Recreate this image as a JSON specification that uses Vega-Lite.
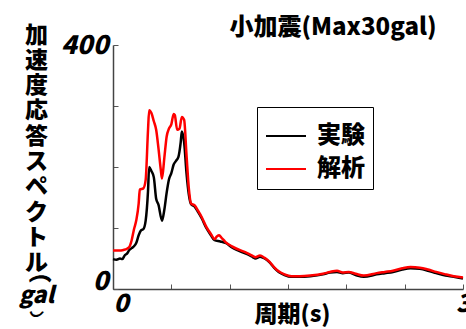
{
  "$schema": "https://vega.github.io/schema/vega-lite/v6.json",
  "width": 350,
  "height": 244,
  "autosize": "none",
  "padding": {"left": 113, "top": 45, "right": 3, "bottom": 40},
  "background": "white",
  "title": {
    "text": "小加震(Max30gal)",
    "font": "Noto Sans CJK JP",
    "fontSize": 24,
    "fontWeight": 900,
    "color": "black",
    "anchor": "middle",
    "dx": 45,
    "baseline": "alphabetic",
    "offset": -35
  },
  "config": {
    "view": {"stroke": null},
    "axis": {"grid": false}
  },
  "data": {
    "values": [
      {"period": 0.00, "acc": 49, "series": "実験"},
      {"period": 0.03, "acc": 48, "series": "実験"},
      {"period": 0.06, "acc": 50, "series": "実験"},
      {"period": 0.08, "acc": 49, "series": "実験"},
      {"period": 0.10, "acc": 55, "series": "実験"},
      {"period": 0.12, "acc": 58, "series": "実験"},
      {"period": 0.14, "acc": 64, "series": "実験"},
      {"period": 0.16, "acc": 67, "series": "実験"},
      {"period": 0.18, "acc": 70, "series": "実験"},
      {"period": 0.20, "acc": 76, "series": "実験"},
      {"period": 0.22, "acc": 88, "series": "実験"},
      {"period": 0.24, "acc": 96, "series": "実験"},
      {"period": 0.26, "acc": 98, "series": "実験"},
      {"period": 0.28, "acc": 112, "series": "実験"},
      {"period": 0.30, "acc": 160, "series": "実験"},
      {"period": 0.31, "acc": 200, "series": "実験"},
      {"period": 0.33, "acc": 193, "series": "実験"},
      {"period": 0.35, "acc": 183, "series": "実験"},
      {"period": 0.37, "acc": 148, "series": "実験"},
      {"period": 0.39, "acc": 138, "series": "実験"},
      {"period": 0.42, "acc": 112, "series": "実験"},
      {"period": 0.44, "acc": 130, "series": "実験"},
      {"period": 0.46, "acc": 158, "series": "実験"},
      {"period": 0.48, "acc": 180, "series": "実験"},
      {"period": 0.50, "acc": 190, "series": "実験"},
      {"period": 0.52, "acc": 204, "series": "実験"},
      {"period": 0.54, "acc": 210, "series": "実験"},
      {"period": 0.56, "acc": 216, "series": "実験"},
      {"period": 0.58, "acc": 240, "series": "実験"},
      {"period": 0.59, "acc": 258, "series": "実験"},
      {"period": 0.61, "acc": 240, "series": "実験"},
      {"period": 0.63, "acc": 190, "series": "実験"},
      {"period": 0.65, "acc": 155, "series": "実験"},
      {"period": 0.67, "acc": 139, "series": "実験"},
      {"period": 0.70, "acc": 135, "series": "実験"},
      {"period": 0.73, "acc": 126, "series": "実験"},
      {"period": 0.76, "acc": 116, "series": "実験"},
      {"period": 0.80, "acc": 100, "series": "実験"},
      {"period": 0.84, "acc": 88, "series": "実験"},
      {"period": 0.87, "acc": 80, "series": "実験"},
      {"period": 0.92, "acc": 78, "series": "実験"},
      {"period": 0.97, "acc": 75, "series": "実験"},
      {"period": 1.02, "acc": 68, "series": "実験"},
      {"period": 1.06, "acc": 64, "series": "実験"},
      {"period": 1.10, "acc": 61, "series": "実験"},
      {"period": 1.15, "acc": 57, "series": "実験"},
      {"period": 1.20, "acc": 52, "series": "実験"},
      {"period": 1.22, "acc": 50, "series": "実験"},
      {"period": 1.26, "acc": 53, "series": "実験"},
      {"period": 1.30, "acc": 50, "series": "実験"},
      {"period": 1.34, "acc": 44, "series": "実験"},
      {"period": 1.38, "acc": 35, "series": "実験"},
      {"period": 1.42, "acc": 28, "series": "実験"},
      {"period": 1.47, "acc": 23, "series": "実験"},
      {"period": 1.53, "acc": 20, "series": "実験"},
      {"period": 1.60, "acc": 20, "series": "実験"},
      {"period": 1.69, "acc": 21, "series": "実験"},
      {"period": 1.80, "acc": 24, "series": "実験"},
      {"period": 1.86, "acc": 27, "series": "実験"},
      {"period": 1.92, "acc": 28, "series": "実験"},
      {"period": 1.97, "acc": 26, "series": "実験"},
      {"period": 2.02, "acc": 27, "series": "実験"},
      {"period": 2.08, "acc": 23, "series": "実験"},
      {"period": 2.15, "acc": 20, "series": "実験"},
      {"period": 2.26, "acc": 24, "series": "実験"},
      {"period": 2.33, "acc": 26, "series": "実験"},
      {"period": 2.40, "acc": 28, "series": "実験"},
      {"period": 2.48, "acc": 32, "series": "実験"},
      {"period": 2.55, "acc": 34, "series": "実験"},
      {"period": 2.63, "acc": 33, "series": "実験"},
      {"period": 2.70, "acc": 30, "series": "実験"},
      {"period": 2.77, "acc": 26, "series": "実験"},
      {"period": 2.85, "acc": 22, "series": "実験"},
      {"period": 2.92, "acc": 20, "series": "実験"},
      {"period": 3.00, "acc": 17, "series": "実験"},
      {"period": 0.00, "acc": 63, "series": "解析"},
      {"period": 0.05, "acc": 63, "series": "解析"},
      {"period": 0.09, "acc": 64, "series": "解析"},
      {"period": 0.12, "acc": 66, "series": "解析"},
      {"period": 0.14, "acc": 69, "series": "解析"},
      {"period": 0.16, "acc": 80, "series": "解析"},
      {"period": 0.18, "acc": 98, "series": "解析"},
      {"period": 0.20, "acc": 113, "series": "解析"},
      {"period": 0.22, "acc": 140, "series": "解析"},
      {"period": 0.23, "acc": 163, "series": "解析"},
      {"period": 0.26, "acc": 165, "series": "解析"},
      {"period": 0.28, "acc": 179, "series": "解析"},
      {"period": 0.30, "acc": 260, "series": "解析"},
      {"period": 0.31, "acc": 293, "series": "解析"},
      {"period": 0.33, "acc": 288, "series": "解析"},
      {"period": 0.35, "acc": 275, "series": "解析"},
      {"period": 0.37, "acc": 261, "series": "解析"},
      {"period": 0.39, "acc": 230, "series": "解析"},
      {"period": 0.41, "acc": 195, "series": "解析"},
      {"period": 0.42, "acc": 181, "series": "解析"},
      {"period": 0.44, "acc": 215, "series": "解析"},
      {"period": 0.46, "acc": 250, "series": "解析"},
      {"period": 0.48, "acc": 263, "series": "解析"},
      {"period": 0.50, "acc": 270, "series": "解析"},
      {"period": 0.52, "acc": 287, "series": "解析"},
      {"period": 0.53, "acc": 285, "series": "解析"},
      {"period": 0.55, "acc": 261, "series": "解析"},
      {"period": 0.57, "acc": 263, "series": "解析"},
      {"period": 0.59, "acc": 282, "series": "解析"},
      {"period": 0.61, "acc": 277, "series": "解析"},
      {"period": 0.63, "acc": 220, "series": "解析"},
      {"period": 0.65, "acc": 165, "series": "解析"},
      {"period": 0.67, "acc": 140, "series": "解析"},
      {"period": 0.70, "acc": 137, "series": "解析"},
      {"period": 0.73, "acc": 128, "series": "解析"},
      {"period": 0.76, "acc": 118, "series": "解析"},
      {"period": 0.80, "acc": 102, "series": "解析"},
      {"period": 0.84, "acc": 90, "series": "解析"},
      {"period": 0.87, "acc": 82, "series": "解析"},
      {"period": 0.89, "acc": 86, "series": "解析"},
      {"period": 0.91, "acc": 88, "series": "解析"},
      {"period": 0.93, "acc": 84, "series": "解析"},
      {"period": 0.95, "acc": 80, "series": "解析"},
      {"period": 0.97, "acc": 76, "series": "解析"},
      {"period": 1.02, "acc": 70, "series": "解析"},
      {"period": 1.06, "acc": 66, "series": "解析"},
      {"period": 1.10, "acc": 63, "series": "解析"},
      {"period": 1.15, "acc": 59, "series": "解析"},
      {"period": 1.20, "acc": 54, "series": "解析"},
      {"period": 1.22, "acc": 52, "series": "解析"},
      {"period": 1.26, "acc": 55, "series": "解析"},
      {"period": 1.30, "acc": 51, "series": "解析"},
      {"period": 1.34, "acc": 45, "series": "解析"},
      {"period": 1.38, "acc": 36, "series": "解析"},
      {"period": 1.42, "acc": 29, "series": "解析"},
      {"period": 1.47, "acc": 24, "series": "解析"},
      {"period": 1.53, "acc": 21, "series": "解析"},
      {"period": 1.60, "acc": 21, "series": "解析"},
      {"period": 1.69, "acc": 22, "series": "解析"},
      {"period": 1.80, "acc": 25, "series": "解析"},
      {"period": 1.86, "acc": 28, "series": "解析"},
      {"period": 1.92, "acc": 30, "series": "解析"},
      {"period": 1.97, "acc": 27, "series": "解析"},
      {"period": 2.02, "acc": 28, "series": "解析"},
      {"period": 2.08, "acc": 25, "series": "解析"},
      {"period": 2.15, "acc": 22, "series": "解析"},
      {"period": 2.26, "acc": 26, "series": "解析"},
      {"period": 2.33, "acc": 28, "series": "解析"},
      {"period": 2.40, "acc": 30, "series": "解析"},
      {"period": 2.48, "acc": 34, "series": "解析"},
      {"period": 2.55, "acc": 36, "series": "解析"},
      {"period": 2.63, "acc": 35, "series": "解析"},
      {"period": 2.70, "acc": 32, "series": "解析"},
      {"period": 2.77, "acc": 28, "series": "解析"},
      {"period": 2.85, "acc": 24, "series": "解析"},
      {"period": 2.92, "acc": 21, "series": "解析"},
      {"period": 3.00, "acc": 19, "series": "解析"}
    ]
  },
  "encoding": {
    "x": {
      "field": "period",
      "type": "quantitative",
      "scale": {"domain": [0, 3], "nice": false, "zero": false},
      "axis": {
        "title": "周期(s)",
        "titleFont": "Noto Sans CJK JP",
        "titleFontSize": 23,
        "titleFontWeight": 900,
        "titleColor": "black",
        "titleBaseline": "alphabetic",
        "titleY": 32,
        "titleX": 179,
        "values": [0, 0.5, 1, 1.5, 2, 2.5, 3],
        "labelExpr": "datum.value == 0 ? '0' : (datum.value == 3 ? '3' : '')",
        "labelFont": "Noto Sans CJK JP",
        "labelFontSize": 25,
        "labelFontWeight": 900,
        "labelFontStyle": "italic",
        "labelColor": "black",
        "labelAlign": {"condition": {"test": "datum.value == 0", "value": "left"}, "value": "center"},
        "labelBaseline": "top",
        "labelPadding": 7,
        "labelFlush": false,
        "labelOverlap": false,
        "tickSize": -5,
        "tickColor": "#555555",
        "tickWidth": 1,
        "domainColor": "#444444",
        "domainWidth": 1.5
      }
    },
    "color": {
      "field": "series",
      "type": "nominal",
      "scale": {"domain": ["実験", "解析"], "range": ["#000000", "#ff0000"]},
      "legend": {
        "title": null,
        "orient": "none",
        "legendX": 144,
        "legendY": 62,
        "padding": 8,
        "strokeColor": "black",
        "fillColor": "white",
        "symbolType": "stroke",
        "symbolSize": 1600,
        "symbolStrokeWidth": 2,
        "labelFont": "Noto Sans CJK JP",
        "labelFontSize": 24,
        "labelFontWeight": 900,
        "labelColor": "black",
        "labelOffset": 10,
        "labelExpr": "datum.label + '\u2002'",
        "rowPadding": 0
      }
    },
    "order": {"field": "period", "type": "quantitative"}
  },
  "layer": [
    {
      "transform": [{"filter": "datum.series == '実験'"}],
      "mark": {"type": "line", "strokeWidth": 2.5, "interpolate": "monotone"},
      "encoding": {
        "y": {
          "field": "acc",
          "type": "quantitative",
          "scale": {"domain": [0, 400], "nice": false},
          "axis": {
            "orient": "left",
            "title": ["加", "速", "度", "応", "答", "ス", "ペ", "ク", "ト", "ル"],
            "titleFont": "Noto Sans CJK JP",
            "titleFontSize": 23,
            "titleFontWeight": 900,
            "titleColor": "black",
            "titleAngle": 0,
            "titleAlign": "center",
            "titleBaseline": "top",
            "titleLineHeight": 25.3,
            "titleX": -77,
            "titleY": -21,
            "values": [0, 100, 200, 300, 400],
            "labelExpr": "datum.value == 0 || datum.value == 400 ? datum.label : ''",
            "labelFont": "Noto Sans CJK JP",
            "labelFontSize": 26,
            "labelFontWeight": 900,
            "labelFontStyle": "italic",
            "labelColor": "black",
            "labelBaseline": {"condition": {"test": "datum.value == 0", "value": "alphabetic"}, "value": "middle"},
            "labelPadding": 10,
            "labelFlush": false,
            "labelOverlap": false,
            "tickSize": -5,
            "tickColor": "#555555",
            "tickWidth": 1,
            "domainColor": "#444444",
            "domainWidth": 1.5
          }
        }
      }
    },
    {
      "transform": [{"filter": "datum.series == '解析'"}],
      "mark": {"type": "line", "strokeWidth": 2.5, "interpolate": "monotone"},
      "encoding": {
        "y": {
          "field": "acc",
          "type": "quantitative",
          "scale": {"domain": [0, 400], "nice": false},
          "axis": {
            "orient": "left",
            "title": ["⌒", "gal", "‿"],
            "titleFont": "Noto Sans CJK JP",
            "titleFontSize": 23,
            "titleFontWeight": 900,
            "titleFontStyle": "italic",
            "titleColor": "black",
            "titleAngle": 0,
            "titleAlign": "center",
            "titleBaseline": "top",
            "titleLineHeight": 8,
            "titleX": -77,
            "titleY": 231,
            "domain": false,
            "ticks": false,
            "labels": false,
            "grid": false
          }
        }
      }
    }
  ],
  "resolve": {"axis": {"y": "independent"}}
}
